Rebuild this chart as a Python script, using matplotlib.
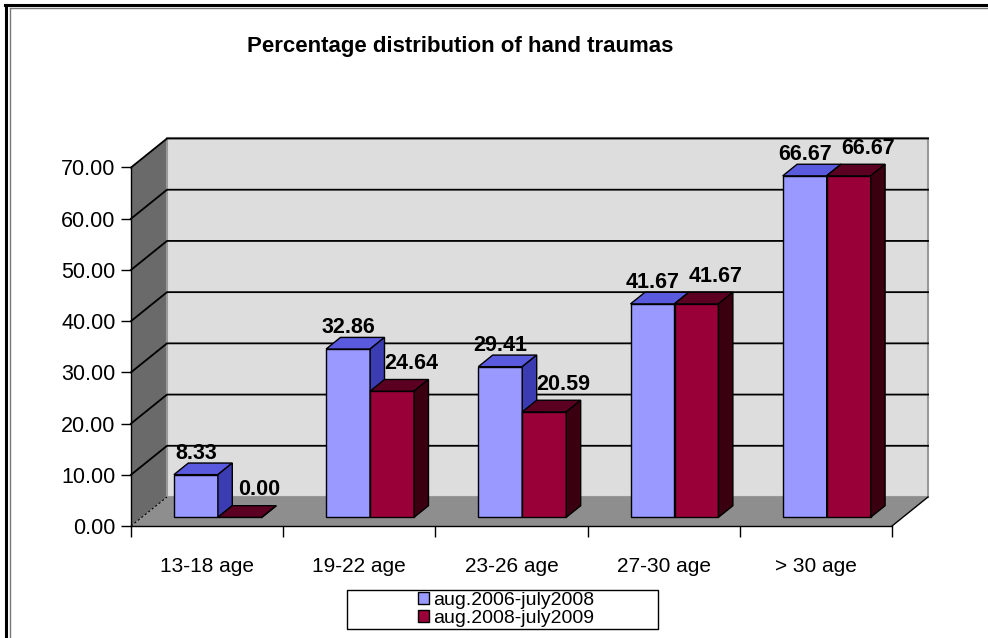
import numpy as np
import matplotlib
matplotlib.use("Agg")
import matplotlib.pyplot as plt
from matplotlib.patches import Polygon, Patch, Rectangle
from matplotlib.lines import Line2D

plt.rcParams['font.family'] = ['Liberation Sans', 'DejaVu Sans']

# data
categories = ["13-18 age", "19-22 age", "23-26 age", "27-30 age", "> 30 age"]
series_names = ["aug.2006-july2008", "aug.2008-july2009"]
period1 = [8.33, 32.86, 29.41, 41.67, 66.67]
period2 = [0.00, 24.64, 20.59, 41.67, 66.67]
yticks = [0, 10, 20, 30, 40, 50, 60, 70]

# colours: front, top, side
blue = ("#9999FF", "#5A5ADE", "#3B3BB2")
red = ("#990038", "#5C0022", "#3A0010")

W, H = 988, 638
fig = plt.figure(figsize=(W / 100, H / 100), dpi=100)
ax = fig.add_axes([131 / W, (H - 526) / H, 761 / W, 358.5 / H])
ax.set_xlim(0, 5)
ax.set_ylim(0, 70)
ax.set_facecolor("none")

# depth of the 3d box in data units
Dx, Dy = 36 / 152.2, 29 / 5.121
bw = 0.289


def poly(pts, fc, z, ec="black", lw=1.0, ls="-"):
    p = Polygon(pts, closed=True, facecolor=fc, edgecolor=ec, linewidth=lw,
                linestyle=ls, zorder=z, clip_on=False)
    ax.add_patch(p)


# walls and floor
poly([(0, 0), (0, 70), (Dx, 70 + Dy), (Dx, Dy)], "#6A6A6A", 1, ec="none")
poly([(Dx, Dy), (Dx, 70 + Dy), (5 + Dx, 70 + Dy), (5 + Dx, Dy)], "#DDDDDD", 1,
     ec="#999999", lw=1.5)
poly([(0, 0), (5, 0), (5 + Dx, Dy), (Dx, Dy)], "#8E8E8E", 1.5, ec="none")
ax.plot([5, 5 + Dx], [0, Dy], color="black", lw=1, zorder=2, clip_on=False)
ax.plot([0, Dx], [0, Dy], color="black", lw=0.8, ls=(0, (2, 2)), zorder=2, clip_on=False)
for v in yticks[1:]:
    ax.plot([0, Dx, 5 + Dx], [v, v + Dy, v + Dy], color="black", lw=1.3,
            zorder=1.2, clip_on=False)


def bar3d(x0, v, cols):
    fx, fy = 0.3 * Dx, 0.3 * Dy
    bx, by = 0.4 * Dx, 0.4 * Dy
    a = x0 + fx
    poly([(a, fy), (a + bw, fy), (a + bw, v + fy), (a, v + fy)], cols[0], 3)
    poly([(a, v + fy), (a + bw, v + fy), (a + bw + bx, v + fy + by),
          (a + bx, v + fy + by)], cols[1], 3)
    poly([(a + bw, fy), (a + bw, v + fy), (a + bw + bx, v + fy + by),
          (a + bw + bx, fy + by)], cols[2], 3)


for i in range(len(categories)):
    bar3d(i + 0.5 - bw, period1[i], blue)
    bar3d(i + 0.5, period2[i], red)
    ax.text(i + 0.5 - bw / 2 + 0.3 * Dx, period1[i] + 0.7 * Dy + 0.8,
            "%.2f" % period1[i], ha="center", va="baseline",
            fontsize=15.5, fontweight="bold", zorder=5)
    ax.text(i + 0.5 + bw / 2 + 0.3 * Dx + 0.125, period2[i] + 0.7 * Dy + 2.0,
            "%.2f" % period2[i], ha="center", va="baseline",
            fontsize=15.5, fontweight="bold", zorder=5)

# axes
for s in ["top", "right"]:
    ax.spines[s].set_visible(False)
ax.spines["left"].set_linewidth(1)
ax.spines["bottom"].set_linewidth(1)
ax.spines["left"].set_zorder(2)
ax.set_yticks(yticks)
ax.set_yticklabels(["%.2f" % v for v in yticks])
ax.tick_params(axis="y", direction="out", length=7, width=1, labelsize=15.5,
               pad=4, colors="black")
ax.set_xticks(range(6))
ax.set_xticklabels([])
ax.set_xticks(np.arange(len(categories)) + 0.5, minor=True)
ax.set_xticklabels(categories, minor=True)
ax.tick_params(axis="x", which="major", direction="out", length=8, width=1)
ax.tick_params(axis="x", which="minor", length=0, pad=22, labelsize=15)

fig.text(460 / W, 1 - 52 / H, "Percentage distribution of hand traumas",
         ha="center", va="baseline", fontsize=16, fontweight="bold")

# legend
fig.add_artist(Rectangle((347 / W, 1 - 629 / H), 311 / W, 39 / H,
                         transform=fig.transFigure, facecolor="white",
                         edgecolor="black", linewidth=1))
handles = [Patch(facecolor=blue[0], edgecolor="black"),
           Patch(facecolor=red[0], edgecolor="black")]
fig.legend(handles, series_names, loc="center", bbox_to_anchor=(506 / W, 1 - 609.5 / H),
           frameon=False, fontsize=14, handlelength=0.57, handleheight=0.57,
           handletextpad=0.2, labelspacing=0.05, borderpad=0)

# chart border
fig.add_artist(Line2D([6 / W, 6 / W], [0, 1 - 5 / H], transform=fig.transFigure,
                      color="black", lw=2.2))
fig.add_artist(Line2D([5 / W, 1], [1 - 5 / H, 1 - 5 / H], transform=fig.transFigure,
                      color="black", lw=2.2))
fig.add_artist(Line2D([9.5 / W, 9.5 / W], [0, 1 - 7.5 / H], transform=fig.transFigure,
                      color="#777777", lw=1))
fig.add_artist(Line2D([9.5 / W, 1], [1 - 7.5 / H, 1 - 7.5 / H], transform=fig.transFigure,
                      color="#777777", lw=1))

fig.savefig("out.png", dpi=100)
